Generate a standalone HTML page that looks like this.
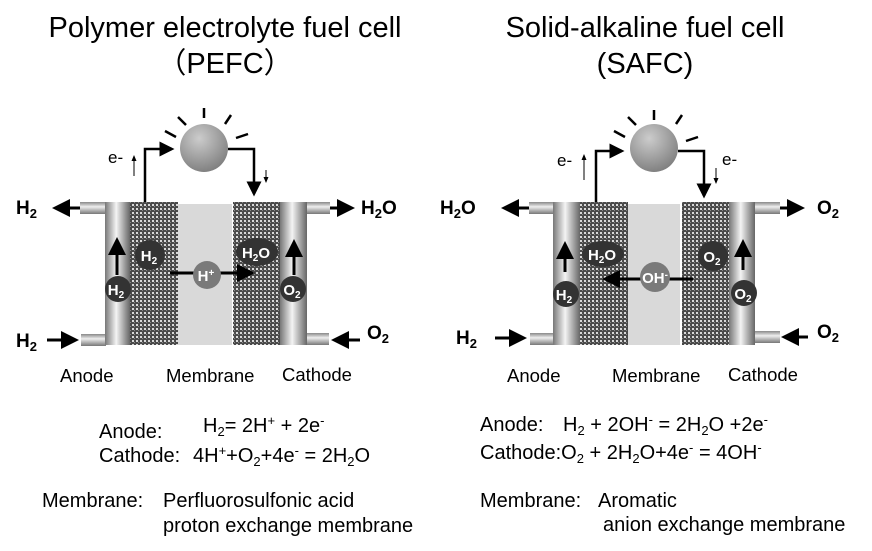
<!DOCTYPE html>
<html><head><meta charset="utf-8"><style>body{margin:0;background:#fff}svg{display:block}text{white-space:pre}</style></head><body>
<svg width="872" height="551" viewBox="0 0 872 551" xmlns="http://www.w3.org/2000/svg" font-family="Liberation Sans, Arial, sans-serif">
<defs>
<pattern id="chk" width="4" height="4" patternUnits="userSpaceOnUse"><rect width="4" height="4" fill="#4a4a4a"/><rect x="0" y="0" width="2" height="2" fill="#d8d8d8"/><rect x="2" y="2" width="1" height="1" fill="#888"/></pattern>
<linearGradient id="tube" x1="0" x2="1"><stop offset="0" stop-color="#777"/><stop offset="0.45" stop-color="#f4f4f4"/><stop offset="1" stop-color="#666"/></linearGradient>
<linearGradient id="pipe" x1="0" y1="0" x2="0" y2="1"><stop offset="0" stop-color="#888"/><stop offset="0.4" stop-color="#eee"/><stop offset="1" stop-color="#777"/></linearGradient>
<radialGradient id="bulb" cx="0.4" cy="0.3" r="0.8"><stop offset="0" stop-color="#ccc"/><stop offset="1" stop-color="#777"/></radialGradient>
<marker id="ah" markerWidth="6" markerHeight="6" refX="5" refY="3" orient="auto" markerUnits="strokeWidth"><path d="M0,0 L6,3 L0,6 z" fill="#000"/></marker>
<marker id="ahs" markerWidth="6" markerHeight="6" refX="5" refY="3" orient="auto" markerUnits="strokeWidth"><path d="M0,0.5 L6,3 L0,5.5 z" fill="#000"/></marker>
</defs>
<g font-size="29" text-anchor="middle" fill="#000">
<text x="225" y="37">Polymer electrolyte fuel cell</text>
<text x="225" y="73">（PEFC）</text>
<text x="645" y="37">Solid-alkaline fuel cell</text>
<text x="645" y="73">(SAFC)</text>
</g>

<!-- LEFT CELL -->
<g>
<rect x="80" y="202" width="26" height="12" fill="url(#pipe)"/>
<rect x="81" y="334" width="25" height="12" fill="url(#pipe)"/>
<rect x="306" y="202" width="24" height="12" fill="url(#pipe)"/>
<rect x="305" y="333" width="24" height="12" fill="url(#pipe)"/>
<rect x="105" y="202" width="25" height="143" fill="url(#tube)"/>
<rect x="130" y="202" width="48" height="143" fill="url(#chk)"/>
<rect x="178" y="204" width="54" height="141" fill="#d9d9d9"/>
<rect x="233" y="202" width="47" height="143" fill="url(#chk)"/>
<rect x="280" y="202" width="27" height="143" fill="url(#tube)"/>
<circle cx="204" cy="148" r="24" fill="url(#bulb)"/>
<g stroke="#000" stroke-width="2.5">
<line x1="204" y1="108" x2="204" y2="118"/><line x1="178" y1="117" x2="186" y2="125"/><line x1="165" y1="131" x2="176" y2="137"/><line x1="231" y1="115" x2="225" y2="124"/><line x1="236" y1="138" x2="248" y2="134"/>
</g>
<polyline points="145,202 145,149 172,149" fill="none" stroke="#000" stroke-width="2.5" marker-end="url(#ah)"/>
<polyline points="228,149 254,149 254,194" fill="none" stroke="#000" stroke-width="2.5" marker-end="url(#ah)"/>
<line x1="134" y1="176" x2="134" y2="156" stroke="#000" stroke-width="1" marker-end="url(#ahs)"/>
<line x1="266" y1="170" x2="266" y2="182" stroke="#000" stroke-width="1" marker-end="url(#ahs)"/>
<text x="108" y="163" font-size="17">e-</text>
<g stroke="#000" stroke-width="3">
<line x1="80" y1="208" x2="55" y2="208" marker-end="url(#ah)"/>
<line x1="47" y1="340" x2="76" y2="340" marker-end="url(#ah)"/>
<line x1="330" y1="208" x2="352" y2="208" marker-end="url(#ah)"/>
<line x1="360" y1="340" x2="334" y2="340" marker-end="url(#ah)"/>
<line x1="117" y1="275" x2="117" y2="240" marker-end="url(#ah)"/>
<line x1="294" y1="275" x2="294" y2="242" marker-end="url(#ah)"/>
<line x1="170" y1="273" x2="252" y2="273" marker-end="url(#ah)"/>
</g>
<g font-weight="bold" font-size="19"><text x="16" y="214">H<tspan font-size="13" dy="4">2</tspan></text>
<text x="16" y="347">H<tspan font-size="13" dy="4">2</tspan></text>
<text x="361" y="214">H<tspan font-size="13" dy="4">2</tspan><tspan dy="-4">O</tspan></text>
<text x="367" y="339">O<tspan font-size="13" dy="4">2</tspan></text></g>
<g fill="#333"><circle cx="118" cy="289" r="13"/><circle cx="150" cy="255" r="15"/><ellipse cx="257" cy="252" rx="21" ry="14"/><circle cx="293" cy="289" r="13"/></g>
<circle cx="207" cy="275" r="14" fill="#7a7a7a"/>
<g fill="#fff" font-weight="bold" font-size="15" text-anchor="middle">
<text x="116" y="295">H<tspan font-size="10" dy="3">2</tspan></text>
<text x="149" y="261">H<tspan font-size="10" dy="3">2</tspan></text>
<text x="256" y="258">H<tspan font-size="10" dy="3">2</tspan><tspan dy="-3">O</tspan></text>
<text x="292" y="295">O<tspan font-size="10" dy="3">2</tspan></text>
<text x="206" y="281">H<tspan font-size="10" dy="-5">+</tspan></text>
</g>
<g font-size="18.5"><text x="60" y="382">Anode</text><text x="166" y="382">Membrane</text><text x="282" y="381">Cathode</text></g>
</g>

<!-- RIGHT CELL -->
<g>
<rect x="529" y="202" width="25" height="12" fill="url(#pipe)"/>
<rect x="530" y="333" width="24" height="12" fill="url(#pipe)"/>
<rect x="754" y="202" width="26" height="12" fill="url(#pipe)"/>
<rect x="754" y="331" width="26" height="12" fill="url(#pipe)"/>
<rect x="553" y="202" width="27" height="143" fill="url(#tube)"/>
<rect x="580" y="202" width="48" height="143" fill="url(#chk)"/>
<rect x="628" y="204" width="52" height="141" fill="#d9d9d9"/>
<rect x="682" y="202" width="47" height="143" fill="url(#chk)"/>
<rect x="729" y="202" width="26" height="143" fill="url(#tube)"/>
<circle cx="654" cy="148" r="24" fill="url(#bulb)"/>
<g stroke="#000" stroke-width="2.5">
<line x1="654" y1="110" x2="654" y2="120"/><line x1="628" y1="117" x2="636" y2="125"/><line x1="614" y1="131" x2="625" y2="137"/><line x1="682" y1="115" x2="676" y2="124"/><line x1="686" y1="141" x2="698" y2="137"/>
</g>
<polyline points="596,202 596,151 622,151" fill="none" stroke="#000" stroke-width="2.5" marker-end="url(#ah)"/>
<polyline points="678,151 704,151 704,196" fill="none" stroke="#000" stroke-width="2.5" marker-end="url(#ah)"/>
<line x1="584" y1="180" x2="584" y2="155" stroke="#000" stroke-width="1" marker-end="url(#ahs)"/>
<line x1="716" y1="168" x2="716" y2="183" stroke="#000" stroke-width="1" marker-end="url(#ahs)"/>
<text x="557" y="166" font-size="17">e-</text>
<text x="722" y="165" font-size="17">e-</text>
<g stroke="#000" stroke-width="3">
<line x1="529" y1="208" x2="504" y2="208" marker-end="url(#ah)"/>
<line x1="495" y1="338" x2="524" y2="338" marker-end="url(#ah)"/>
<line x1="780" y1="208" x2="802" y2="208" marker-end="url(#ah)"/>
<line x1="808" y1="337" x2="784" y2="337" marker-end="url(#ah)"/>
<line x1="565" y1="272" x2="565" y2="244" marker-end="url(#ah)"/>
<line x1="743" y1="270" x2="743" y2="242" marker-end="url(#ah)"/>
<line x1="693" y1="279" x2="605" y2="279" marker-end="url(#ah)"/>
</g>
<g font-weight="bold" font-size="19"><text x="440" y="214">H<tspan font-size="13" dy="4">2</tspan><tspan dy="-4">O</tspan></text>
<text x="456" y="344">H<tspan font-size="13" dy="4">2</tspan></text>
<text x="817" y="214">O<tspan font-size="13" dy="4">2</tspan></text>
<text x="817" y="338">O<tspan font-size="13" dy="4">2</tspan></text></g>
<g fill="#333"><circle cx="566" cy="294" r="13"/><ellipse cx="603" cy="254" rx="21" ry="13"/><circle cx="713" cy="256" r="15"/><circle cx="744" cy="293" r="13"/></g>
<circle cx="655" cy="277" r="15" fill="#7a7a7a"/>
<g fill="#fff" font-weight="bold" font-size="15" text-anchor="middle">
<text x="564" y="300">H<tspan font-size="10" dy="3">2</tspan></text>
<text x="602" y="260">H<tspan font-size="10" dy="3">2</tspan><tspan dy="-3">O</tspan></text>
<text x="712" y="262">O<tspan font-size="10" dy="3">2</tspan></text>
<text x="743" y="299">O<tspan font-size="10" dy="3">2</tspan></text>
<text x="655" y="283">OH<tspan font-size="10" dy="-5">-</tspan></text>
</g>
<g font-size="18.5"><text x="507" y="382">Anode</text><text x="612" y="382">Membrane</text><text x="728" y="381">Cathode</text></g>
</g>

<!-- EQUATIONS -->
<g font-size="20" fill="#000">
<text x="99" y="438">Anode:</text>
<text x="203" y="432">H<tspan font-size="13" dy="4">2</tspan><tspan dy="-4">= 2H</tspan><tspan font-size="13" dy="-7">+</tspan><tspan dy="7"> + 2e</tspan><tspan font-size="13" dy="-7">-</tspan></text>
<text x="99" y="462">Cathode:</text>
<text x="193" y="462">4H<tspan font-size="13" dy="-7">+</tspan><tspan dy="7">+O</tspan><tspan font-size="13" dy="4">2</tspan><tspan dy="-4">+4e</tspan><tspan font-size="13" dy="-7">-</tspan><tspan dy="7"> = 2H</tspan><tspan font-size="13" dy="4">2</tspan><tspan dy="-4">O</tspan></text>
<text x="42" y="507">Membrane:</text>
<text x="163" y="507">Perfluorosulfonic acid</text>
<text x="163" y="532">proton exchange membrane</text>

<text x="480" y="431">Anode:</text>
<text x="563" y="431">H<tspan font-size="13" dy="4">2</tspan><tspan dy="-4"> + 2OH</tspan><tspan font-size="13" dy="-7">-</tspan><tspan dy="7"> = 2H</tspan><tspan font-size="13" dy="4">2</tspan><tspan dy="-4">O +2e</tspan><tspan font-size="13" dy="-7">-</tspan></text>
<text x="480" y="459">Cathode:O<tspan font-size="13" dy="4">2</tspan><tspan dy="-4"> + 2H</tspan><tspan font-size="13" dy="4">2</tspan><tspan dy="-4">O+4e</tspan><tspan font-size="13" dy="-7">-</tspan><tspan dy="7"> = 4OH</tspan><tspan font-size="13" dy="-7">-</tspan></text>
<text x="480" y="507">Membrane:</text>
<text x="598" y="507">Aromatic</text>
<text x="603" y="531">anion exchange membrane</text>
</g>
</svg>
</body></html>
